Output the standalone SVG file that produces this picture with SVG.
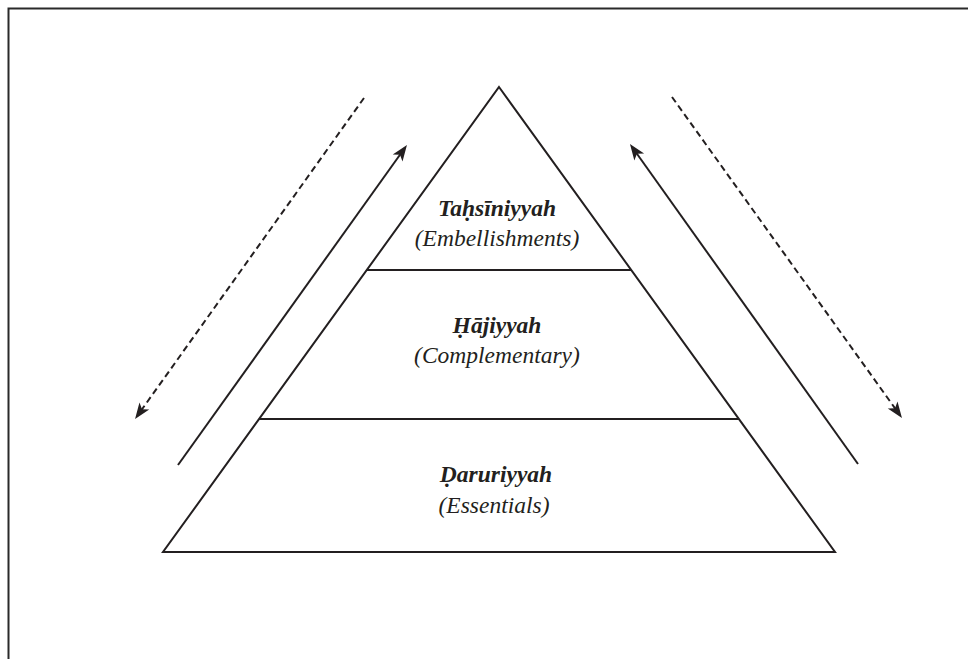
<svg xmlns="http://www.w3.org/2000/svg" width="968" height="659" viewBox="0 0 968 659">
<style>
.ln{stroke:#231f20;stroke-width:2;fill:none}
.dash{stroke-dasharray:6.5 4}
.t{font-family:"Liberation Serif","Times New Roman","DejaVu Serif",serif;font-size:23.5px;font-style:italic;fill:#231f20;text-anchor:middle}
.b{font-weight:bold}
</style>
<defs>
<marker id="ah" markerUnits="userSpaceOnUse" markerWidth="17" markerHeight="14" refX="8" refY="6.5" orient="auto" overflow="visible">
<path d="M0,0.5 L16,6.5 L0,12.5 L4,6.5 Z" fill="#231f20"/>
</marker>
</defs>
<rect width="968" height="659" fill="#fff"/>
<path d="M8.5,659 L8.5,8.5 L968,8.5" fill="none" stroke="#2a2a2a" stroke-width="2"/>
<g id="pyramid">
<polygon class="ln" points="499,87 835,552 163,552" stroke-linejoin="miter"/>
</g>
<g id="tahsiniyyah">
<line class="ln" x1="367" y1="270" x2="631" y2="270"/>
<text class="t b" x="497" y="216">Taḥsīniyyah</text>
<text class="t" x="497" y="246">(Embellishments)</text>
</g>
<g id="hajiyyah">
<line class="ln" x1="259" y1="419" x2="739" y2="419"/>
<text class="t b" x="497" y="333">Ḥājiyyah</text>
<text class="t" x="497" y="363">(Complementary)</text>
</g>
<g id="daruriyyah">
<text class="t b" x="496" y="482">Ḍaruriyyah</text>
<text class="t" x="494" y="513">(Essentials)</text>
</g>
<g id="connectors">
<line class="ln" x1="178" y1="465" x2="402.3" y2="151.5" marker-end="url(#ah)"/>
<line class="ln dash" x1="364" y1="98" x2="139.7" y2="412.5" marker-end="url(#ah)"/>
<line class="ln" x1="858" y1="464" x2="634.6" y2="150.5" marker-end="url(#ah)"/>
<line class="ln dash" x1="672" y1="97" x2="897.3" y2="411.5" marker-end="url(#ah)"/>
</g>
</svg>
